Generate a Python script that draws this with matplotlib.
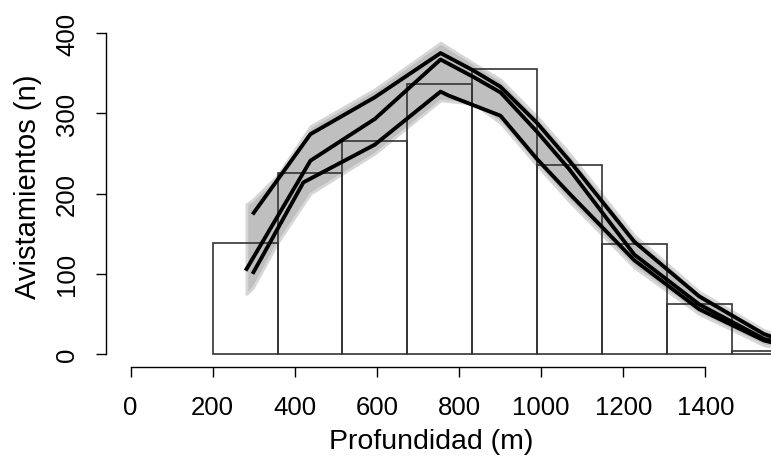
import matplotlib
matplotlib.use('Agg')
import matplotlib.pyplot as plt
import numpy as np

plt.rcParams['font.family'] = ['Liberation Sans', 'DejaVu Sans']

# histograma de avistamientos por profundidad
bin_edges = [200, 358, 516, 674, 832, 990, 1148, 1306, 1464, 1622]
counts = [138, 226, 265, 336, 355, 236, 137, 63, 4]

# banda de simulaciones (envolvente)
band_x = [282, 297, 357, 438, 595, 755, 836, 901, 990, 1069, 1227, 1385, 1543, 1600]
band_hi = [187, 192, 222, 284, 330, 388, 362, 342, 296, 250, 148, 78, 30, 20]
band_lo = [75, 82, 138, 200, 250, 316, 312, 288, 235, 190, 108, 50, 11, 6]

# curvas ajustadas
x_upper = [297, 438, 595, 755, 836, 901, 990, 1069, 1227, 1385, 1543, 1600]
y_upper = [174, 274, 320, 375, 353, 333, 288, 241, 140, 72, 25, 15]

x_mid = [280, 438, 595, 755, 836, 901, 990, 1069, 1227, 1385, 1543, 1600]
y_mid = [104, 241, 293, 367, 345, 326, 277, 230, 124, 62, 19, 12]

x_low = [297, 421, 595, 755, 775, 901, 990, 1069, 1227, 1385, 1543, 1600]
y_low = [100, 214, 261, 327, 322, 297, 243, 200, 117, 56, 17, 10]

fig = plt.figure(figsize=(7.71, 4.6), dpi=100)
ax = fig.add_axes([0.1375, 0.2, 0.8625, 0.754])

ax.fill_between(band_x, band_lo, band_hi, facecolor='#bfbfbf',
                edgecolor='#d6d6d6', linewidth=2.0, zorder=1)

# barras sin relleno, por encima de la banda
edges = np.array(bin_edges)
ax.bar(edges[:-1], counts, width=np.diff(edges), align='edge',
       fill=False, edgecolor='#333333', linewidth=1.2, zorder=2)

for xs, ys in [(x_upper, y_upper), (x_mid, y_mid), (x_low, y_low)]:
    ax.plot(xs, ys, color='black', linewidth=2.8, solid_capstyle='butt', zorder=3)

ax.set_xlim(-60, 1560)
ax.set_ylim(-16, 416)

ax.set_xticks(np.arange(0, 1401, 200))
ax.set_yticks(np.arange(0, 401, 100))
ax.spines['top'].set_visible(False)
ax.spines['right'].set_visible(False)
ax.spines['left'].set_bounds(0, 400)
ax.spines['bottom'].set_bounds(0, 1400)
for s in ['left', 'bottom']:
    ax.spines[s].set_linewidth(1.0)
ax.tick_params(axis='both', direction='out', length=7.5, width=1.0,
               labelsize=18.5, pad=12)
ax.tick_params(axis='x', pad=13)
for lab in ax.get_yticklabels():
    lab.set_rotation(90)
    lab.set_va('center')

ax.set_xlabel('Profundidad (m)', fontsize=20.5, va='center')
ax.set_ylabel('Avistamientos (n)', fontsize=21, va='center')
ax.xaxis.set_label_coords(0.489, -0.212)
ax.yaxis.set_label_coords(-0.117, 0.524)

fig.savefig('out.png', dpi=100)
